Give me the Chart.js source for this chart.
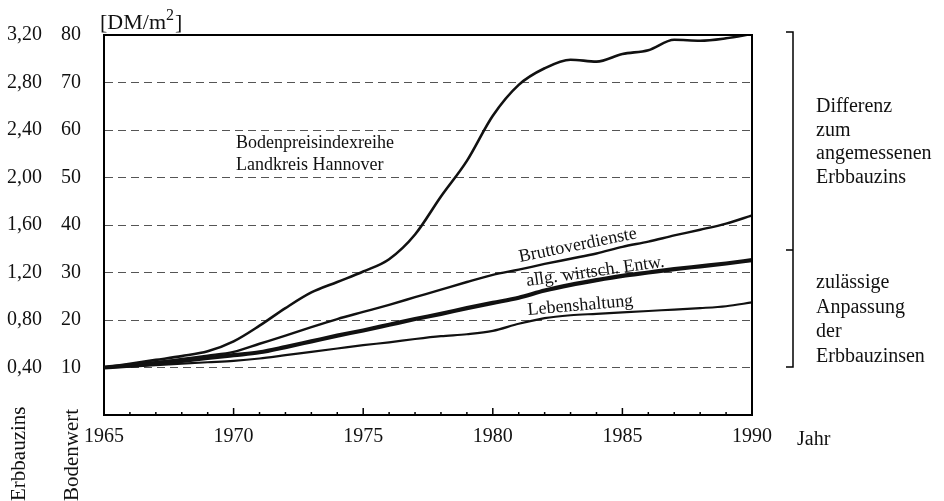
<!DOCTYPE html>
<html>
<head>
<meta charset="utf-8">
<script src="https://cdn.jsdelivr.net/npm/chart.js@4.4.1/dist/chart.umd.min.js"></script>
<style>
  html, body { margin: 0; padding: 0; background: #fff; }
  canvas { display: block; }
</style>
</head>
<body>
<canvas id="indexChart" width="944" height="501"></canvas>
<script>
// data (Bodenwert DM/m2, 1965 = 10)
var years = [1965,1966,1967,1968,1969,1970,1971,1972,1973,1974,1975,1976,1977,
             1978,1979,1980,1981,1982,1983,1984,1985,1986,1987,1988,1989,1990];
var bodenpreis = [10,10.8,11.6,12.4,13.4,15.5,18.8,22.5,25.8,28,30.2,32.8,38,
                  46,53.5,63,69.5,73,74.8,74.4,76,76.8,79,78.8,79.3,80.2];
var bruttoverdienste = [10,10.5,11.1,11.8,12.5,13.3,15,16.7,18.5,20.2,21.7,23.2,24.8,
                        26.4,28,29.5,30.6,31.8,32.9,34,35.4,36.5,37.8,39,40.3,42];
var allgWirtsch = [10,10.4,10.9,11.4,12,12.6,13.2,14.3,15.5,16.7,17.8,19,20.2,
                   21.3,22.5,23.6,24.7,26.2,27.4,28.4,29.3,30,30.7,31.3,31.9,32.6];
var lebenshaltung = [10,10.2,10.5,10.8,11.1,11.4,11.9,12.6,13.3,14,14.7,15.3,16,
                     16.6,17,17.7,19.2,20.4,21,21.3,21.6,21.9,22.2,22.5,22.9,23.7];

// tick labels
var yearLabels = [1965,1970,1975,1980,1985,1990];
var bodenwertTicks = [10,20,30,40,50,60,70,80];
var erbbauzinsTicks = ['0,40','0,80','1,20','1,60','2,00','2,40','2,80','3,20'];

var serif = "'Liberation Serif', 'DejaVu Serif', serif";

function pts(arr) {
  return years.map(function (y, i) { return { x: y, y: arr[i] }; });
}

var extras = {
  id: 'extras',
  afterDraw: function (chart) {
    var c = chart.ctx;
    var a = chart.chartArea;
    var xs = chart.scales.x;
    c.save();
    c.strokeStyle = '#000';
    c.fillStyle = '#111';

    // top and right frame
    c.lineWidth = 2;
    c.beginPath();
    c.moveTo(a.left, a.top);
    c.lineTo(a.right, a.top);
    c.lineTo(a.right, a.bottom);
    c.stroke();

    // year ticks pointing into the plot
    c.lineWidth = 1.5;
    years.forEach(function (y) {
      var px = xs.getPixelForValue(y);
      var len = (y % 5 === 0) ? 7 : 3;
      c.beginPath();
      c.moveTo(px, a.bottom);
      c.lineTo(px, a.bottom - len);
      c.stroke();
    });

    // unit
    c.font = '22px ' + serif;
    c.textBaseline = 'alphabetic';
    c.fillText('[DM/m', 100, 29);
    var w = c.measureText('[DM/m').width;
    c.font = '16px ' + serif;
    c.fillText('2', 100 + w, 20);
    var w2 = c.measureText('2').width;
    c.font = '22px ' + serif;
    c.fillText(']', 100 + w + w2 + 1, 29);

    // axis name "Jahr"
    c.font = '20px ' + serif;
    c.fillText('Jahr', 797, 445);

    // rotated axis names
    c.font = '21px ' + serif;
    c.save();
    c.translate(25, 501);
    c.rotate(-Math.PI / 2);
    c.fillText('Erbbauzins', 0, 0);
    c.restore();
    c.save();
    c.translate(78, 501);
    c.rotate(-Math.PI / 2);
    c.fillText('Bodenwert', 0, 0);
    c.restore();

    // curve labels
    c.font = '18px ' + serif;
    c.fillText('Bodenpreisindexreihe', 236, 148);
    c.fillText('Landkreis Hannover', 236, 170);

    c.save();
    c.translate(520, 262);
    c.rotate(-11.5 * Math.PI / 180);
    c.fillText('Bruttoverdienste', 0, 0);
    c.restore();
    c.save();
    c.translate(527, 286);
    c.rotate(-8 * Math.PI / 180);
    c.fillText('allg. wirtsch. Entw.', 0, 0);
    c.restore();
    c.save();
    c.translate(528, 315);
    c.rotate(-5 * Math.PI / 180);
    c.fillText('Lebenshaltung', 0, 0);
    c.restore();

    // brackets on the right
    c.lineWidth = 1.5;
    c.beginPath();
    c.moveTo(786, 32);
    c.lineTo(793, 32);
    c.lineTo(793, 367);
    c.lineTo(786, 367);
    c.moveTo(786, 250);
    c.lineTo(793, 250);
    c.stroke();

    c.font = '20px ' + serif;
    ['Differenz', 'zum', 'angemessenen', 'Erbbauzins'].forEach(function (t, i) {
      c.fillText(t, 816, 112 + i * 23.7);
    });
    ['zulässige', 'Anpassung', 'der', 'Erbbauzinsen'].forEach(function (t, i) {
      c.fillText(t, 816, 288 + i * 24.7);
    });
    c.restore();
  }
};

var lineBase = { pointRadius: 0, borderColor: '#111', fill: false, cubicInterpolationMode: 'monotone' };

var ctx = document.getElementById('indexChart').getContext('2d');
var chart = new Chart(ctx, {
  type: 'line',
  data: {
    datasets: [
      Object.assign({ label: 'Bodenpreisindexreihe Landkreis Hannover', data: pts(bodenpreis), borderWidth: 2.6 }, lineBase),
      Object.assign({ label: 'Bruttoverdienste', data: pts(bruttoverdienste), borderWidth: 2.4 }, lineBase),
      Object.assign({ label: 'allg. wirtsch. Entw.', data: pts(allgWirtsch), borderWidth: 4.2 }, lineBase),
      Object.assign({ label: 'Lebenshaltung', data: pts(lebenshaltung), borderWidth: 2.2 }, lineBase)
    ]
  },
  options: {
    responsive: false,
    animation: false,
    layout: { padding: { top: 33, right: 192, left: 0, bottom: 0 } },
    plugins: {
      legend: { display: false },
      tooltip: { enabled: false }
    },
    scales: {
      x: {
        type: 'linear',
        min: 1965,
        max: 1990,
        grid: { display: false, drawTicks: false },
        border: { display: true, color: '#000', width: 2 },
        ticks: {
          stepSize: 1,
          autoSkip: false,
          maxRotation: 0,
          padding: 10,
          color: '#111',
          font: { family: serif, size: 20 },
          callback: function (v) { return yearLabels.indexOf(v) >= 0 ? String(v) : ''; }
        },
        afterFit: function (s) { s.height = 86; }
      },
      y: {
        type: 'linear',
        position: 'left',
        weight: 0,
        min: 0,
        max: 80,
        grid: {
          drawTicks: false,
          lineWidth: 1,
          color: function (c) {
            var v = c.tick ? c.tick.value : null;
            return (v === 0 || v === 80) ? 'rgba(0,0,0,0)' : '#555';
          }
        },
        border: { display: true, color: '#000', width: 2, dash: [8, 5] },
        ticks: {
          stepSize: 10,
          padding: 23,
          color: '#111',
          font: { family: serif, size: 20 },
          callback: function (v) { return bodenwertTicks.indexOf(v) >= 0 ? String(v) : ''; }
        },
        afterFit: function (s) { s.width = 52; }
      },
      yErb: {
        type: 'linear',
        position: 'left',
        weight: 1,
        min: 0,
        max: 80,
        grid: { display: false, drawTicks: false },
        border: { display: false },
        ticks: {
          stepSize: 10,
          padding: 10,
          color: '#111',
          font: { family: serif, size: 20 },
          callback: function (v) { var i = bodenwertTicks.indexOf(v); return i >= 0 ? erbbauzinsTicks[i] : ''; }
        },
        afterFit: function (s) { s.width = 52; }
      }
    }
  },
  plugins: [extras]
});
</script>
</body>
</html>
